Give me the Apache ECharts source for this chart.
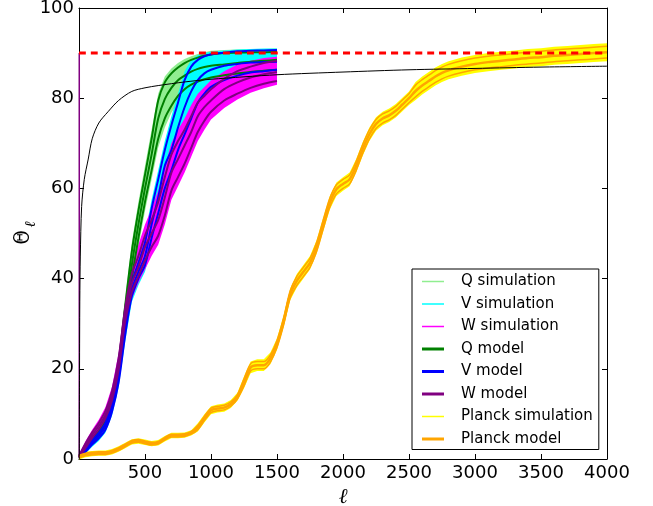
<!DOCTYPE html>
<html>
<head>
<meta charset="utf-8">
<script src="https://cdn.jsdelivr.net/npm/echarts@6/dist/echarts.min.js"></script>
<style>
html, body { margin: 0; padding: 0; background: #fff; }
#chart { width: 653px; height: 506px; }
</style>
</head>
<body>
<div id="chart"></div>
<script>
// multipole grid shared by the WMAP bands
const ell = [0, 50, 100, 150, 200, 250, 300, 350, 400, 450, 500, 550, 600, 650, 700, 750, 800, 850, 900, 950, 1000, 1100, 1200, 1300, 1400, 1500];

const qModel   = [0.5, 2.2, 4, 5.8, 8.3, 12.5, 20, 32, 43, 52, 60, 67.5, 75.5, 79.8, 82.3, 84, 85, 85.9, 86.5, 86.9, 87.2, 87.5, 87.8, 88.1, 88.3, 88.5];
const qModelHi = [0.7, 2.6, 4.5, 6.4, 9, 13.5, 21.5, 34, 46, 55, 63, 71, 79.5, 83.5, 85.5, 86.8, 87.8, 88.5, 89, 89.4, 89.7, 90, 90.1, 90.2, 90.2, 90.3];
const qModelLo = [0.3, 1.8, 3.5, 5.2, 7.6, 11.5, 18.5, 30, 40, 49, 57, 64, 71, 75.5, 78.3, 80.5, 82, 83, 83.7, 84.2, 84.6, 85.1, 85.5, 85.8, 86.1, 86.3];
const qSimHi   = [1, 3, 5, 7, 9.7, 14.5, 22.8, 35.5, 48, 57, 65, 73, 81, 84.8, 86.6, 87.8, 88.7, 89.3, 89.8, 90.2, 90.5, 90.7, 90.8, 90.9, 90.9, 91];
const qSimLo   = [0.1, 1.4, 3, 4.7, 7, 10.7, 17.2, 28.5, 38, 47, 55, 62, 69, 73.5, 76.8, 79, 80.7, 81.8, 82.7, 83.3, 83.8, 84.4, 84.8, 85.1, 85.4, 85.6];

const vModel   = [0.5, 2, 3.7, 5.2, 7.2, 11.5, 18.5, 29, 37.5, 41.5, 45, 52, 58, 65, 68.5, 73.5, 78, 81.5, 84, 85.5, 86.3, 87.2, 87.6, 87.9, 88, 88.1];
const vModelHi = [0.7, 2.4, 4.2, 5.8, 8, 12.5, 20, 30.5, 39, 43.5, 48, 55.5, 62, 68.5, 74, 79, 84, 87, 88.5, 89.3, 89.7, 90.1, 90.4, 90.5, 90.6, 90.7];
const vModelLo = [0.3, 1.6, 3.2, 4.6, 6.5, 10.5, 17, 27.5, 36, 40, 43, 49, 54.5, 60, 64, 68.5, 72, 75.5, 79, 81, 82.5, 84, 85, 85.7, 86, 86.3];
const vSimHi   = [1, 2.8, 4.7, 6.4, 8.7, 13.3, 21.3, 32, 40.5, 45, 50, 57.5, 64, 70.5, 76, 81, 86, 88.5, 89.5, 90, 90.3, 90.6, 90.8, 90.9, 91, 91];
const vSimLo   = [0.1, 1.2, 2.7, 4, 5.8, 9.6, 15.8, 26, 34.8, 38.5, 41.5, 47, 52.5, 58, 62, 66.5, 70, 73.5, 77.2, 79.5, 81, 82.8, 83.8, 84.5, 84.9, 85.2];

const wModel   = [0.5, 3, 5.3, 7.3, 9.8, 14, 21, 32, 39, 42.5, 47, 50, 53, 58, 63.5, 66.5, 69.5, 72.5, 76, 78, 79.5, 82, 83.5, 84.6, 85.3, 85.8];
const wModelHi = [0.7, 3.5, 5.9, 8, 10.6, 15, 22.3, 33.5, 41, 45, 49.5, 53, 57, 62.5, 67.5, 70.5, 73, 76, 79, 80.5, 82, 84.3, 86, 87, 87.8, 88.3];
const wModelLo = [0.3, 2.5, 4.7, 6.6, 9, 13, 19.7, 30.5, 37, 40.5, 44, 47, 49.5, 54, 59.5, 62.5, 65.5, 69, 72.5, 75, 77, 79.5, 81, 82.3, 83.2, 83.8];
const wSimHi   = [1, 4, 6.5, 8.7, 11.5, 16, 23.5, 35, 43, 47.5, 52, 55.5, 59.5, 65, 70, 73, 75.5, 78.5, 81, 82.5, 84, 86, 87.5, 88.3, 88.9, 89.2];
const wSimLo   = [0.1, 2, 4.1, 6, 8.3, 12, 18.5, 29, 35.5, 39, 42, 45, 47.5, 52, 57.5, 60.5, 63.5, 67, 70.5, 73, 75.3, 77.8, 79.7, 81.2, 82.2, 83];
// spike of the W model at the lowest multipole
const wSpikeEll = [2, 2];
const wSpikeVal = [90, 0.5];

// Planck
const planckEll = [0, 50, 100, 150, 200, 250, 300, 350, 400, 450, 500, 550, 600, 650, 700, 750, 800, 850,
  900, 950, 1000, 1050, 1100, 1150, 1200, 1250, 1300, 1350, 1400, 1450, 1500, 1550, 1600,
  1650, 1700, 1750, 1800, 1850, 1900, 1950, 2000, 2050, 2100, 2150, 2200, 2250, 2300, 2350, 2400, 2450, 2500,
  2550, 2600, 2650, 2700, 2750, 2800, 2900, 3000, 3100, 3200, 3300, 3400, 3500, 3600, 3700, 3800, 3900, 4000];
const planckModel = [0.5, 1.0, 1.2, 1.3, 1.3, 1.6, 2.2, 3.0, 3.8, 4.0, 3.7, 3.4, 3.6, 4.5, 5.2, 5.2, 5.3, 5.8,
  7.0, 9.0, 10.8, 11.2, 11.4, 12.2, 13.8, 17.0, 20.3, 20.8, 20.8, 22.3, 25.5, 30.5, 36.5,
  39.5, 41.5, 43.5, 47.0, 52.0, 56.8, 59.8, 61.0, 62.0, 65.0, 68.8, 72.0, 74.3, 75.5, 76.2, 77.2, 78.6, 80.0,
  81.6, 82.8, 83.8, 84.8, 85.6, 86.2, 87.0, 87.6, 88.0, 88.3, 88.6, 88.9, 89.1, 89.4, 89.6, 89.8, 90.0, 90.2];
// half distance of the model error lines and half width of the simulation band
const planckModelSpread = [0.3, 0.3, 0.3, 0.3, 0.3, 0.3, 0.3, 0.3, 0.3, 0.3, 0.3, 0.3, 0.3, 0.3, 0.3, 0.3, 0.3, 0.3,
  0.5, 0.5, 0.5, 0.5, 0.5, 0.5, 0.5, 0.8, 0.8, 0.8, 0.8, 0.8, 0.8, 0.8, 0.8,
  1.0, 1.0, 1.0, 1.0, 1.0, 1.0, 1.0, 1.0, 1.0, 1.0, 1.0, 1.0, 1.0, 1.0, 1.0, 1.0, 1.0, 1.0,
  1.3, 1.3, 1.3, 1.3, 1.3, 1.3, 1.3, 1.3, 1.3, 1.3, 1.3, 1.3, 1.3, 1.3, 1.3, 1.3, 1.3, 1.3];
const planckSimSpread = [0.6, 0.6, 0.6, 0.6, 0.6, 0.6, 0.6, 0.6, 0.6, 0.6, 0.6, 0.6, 0.6, 0.6, 0.6, 0.6, 0.6, 0.6,
  0.9, 0.9, 0.9, 0.9, 0.9, 0.9, 0.9, 1.3, 1.3, 1.3, 1.3, 1.3, 1.3, 1.3, 1.3,
  1.5, 1.5, 1.5, 1.5, 1.5, 1.5, 1.5, 1.5, 1.5, 1.5, 1.5, 1.5, 1.5, 1.5, 1.5, 1.5, 1.5, 1.5,
  2.0, 2.0, 2.0, 2.0, 2.0, 2.0, 2.0, 2.0, 2.0, 2.0, 2.0, 2.0, 2.0, 2.0, 2.0, 2.0, 2.0, 2.0];

// thin black reference curve
const refEll = [2, 4, 6, 10, 20, 40, 70, 100, 150, 220, 300, 400, 500, 600, 800, 1000, 1500, 2000, 2500, 3000, 3500, 4000];
const refVal = [0, 20, 35, 45, 56, 62, 66.5, 71, 74.5, 77, 79.5, 81.5, 82.3, 82.8, 83.6, 84.2, 85.2, 85.8, 86.3, 86.6, 86.9, 87.1];

const limitValue = 90;
const xTicks = [0, 4000, 500];
const yTicks = [0, 100, 20];

const legendNames = ["Q simulation", "V simulation", "W simulation", "Q model", "V model", "W model", "Planck simulation", "Planck model"];

const chart = echarts.init(document.getElementById("chart"));

function pairs(xs, ys) {
    return xs.map((x, i) => [x, ys[i]]);
}

function band(name, xs, lo, hi, color, z) {
    return {
        name: name,
        type: "custom",
        z: z,
        silent: true,
        data: xs.map((x, i) => [x, lo[i], hi[i]]),
        encode: { x: 0, y: [1, 2] },
        itemStyle: { color: color },
        renderItem: function (params, api) {
            if (params.dataIndex !== 0) return;
            const top = xs.map((x, i) => api.coord([x, hi[i]]));
            const bottom = xs.map((x, i) => api.coord([x, lo[i]])).reverse();
            return {
                type: "polygon",
                shape: { points: top.concat(bottom) },
                style: { fill: color }
            };
        }
    };
}

function line(name, xs, ys, color, width, z) {
    return {
        name: name,
        type: "line",
        data: pairs(xs, ys),
        symbol: "none",
        smooth: 0.3,
        silent: true,
        z: z,
        itemStyle: { color: color },
        lineStyle: { color: color, width: width }
    };
}

const planckModelHi = planckModel.map((v, i) => v + planckModelSpread[i]);
const planckModelLo = planckModel.map((v, i) => v - planckModelSpread[i]);
const planckSimHi = planckModel.map((v, i) => v + planckSimSpread[i]);
const planckSimLo = planckModel.map((v, i) => v - planckSimSpread[i]);

const series = [
    band("Q simulation", ell, qSimLo, qSimHi, "#90ee90", 1),
    band("V simulation", ell, vSimLo, vSimHi, "#00ffff", 1),
    band("W simulation", ell, wSimLo, wSimHi, "#ff00ff", 1),
    band("Planck simulation", planckEll, planckSimLo, planckSimHi, "#ffff00", 1),

    line("Q model", ell, qModel, "#008000", 2, 2),
    line("Q model hi", ell, qModelHi, "#008000", 2, 2),
    line("Q model lo", ell, qModelLo, "#008000", 2, 2),
    line("V model", ell, vModel, "#0000ff", 2, 2),
    line("V model hi", ell, vModelHi, "#0000ff", 2, 2),
    line("V model lo", ell, vModelLo, "#0000ff", 2, 2),
    line("W model", ell, wModel, "#800080", 2, 2),
    line("W model hi", ell, wModelHi, "#800080", 2, 2),
    line("W model lo", ell, wModelLo, "#800080", 2, 2),
    line("W spike", wSpikeEll, wSpikeVal, "#800080", 1.5, 2),
    line("Planck model", planckEll, planckModel, "#ffa500", 2.5, 2),
    line("Planck model hi", planckEll, planckModelHi, "#ffa500", 1.5, 2),
    line("Planck model lo", planckEll, planckModelLo, "#ffa500", 1.5, 2),

    line("reference", refEll, refVal, "#000000", 1, 3),
    Object.assign(line("limit", [xTicks[0], xTicks[1]], [limitValue, limitValue], "#ff0000", 3, 4),
        { lineStyle: { color: "#ff0000", width: 3, type: [7, 5] } })
];

const thin = "path://M0,0H22V1.5H0Z";
const thick = "path://M0,0H22V3H0Z";

const axisCommon = {
    type: "value",
    axisLine: { show: true, onZero: false, lineStyle: { color: "#000", width: 1 } },
    axisTick: { show: true, inside: true, length: 5, lineStyle: { color: "#000" } },
    splitLine: { show: false }
};

chart.setOption({
    animation: false,
    backgroundColor: "#fff",
    grid: { left: 79, right: 46, top: 8, bottom: 47, containLabel: false, outerBoundsMode: "none" },
    legend: {
        orient: "vertical",
        left: 412,
        top: 269,
        padding: [5, 6, 3, 10],
        itemGap: 7.5,
        itemWidth: 22,
        itemHeight: 14,
        selectedMode: false,
        borderColor: "#000",
        borderWidth: 1,
        backgroundColor: "#fff",
        textStyle: { fontSize: 15, color: "#000", fontFamily: "DejaVu Sans", padding: [0, 0, 0, 12] },
        data: legendNames.map(n => ({ name: n, icon: n.indexOf("simulation") >= 0 ? thin : thick }))
    },
    // y axis title: Theta with a lowered script-l subscript, rotated like the matplotlib label
    graphic: [
        {
            type: "text", x: 23, y: 237.5, rotation: Math.PI / 2, scaleX: 0.75, z: 10,
            style: { text: "Θ", fontSize: 23, fontFamily: "DejaVu Serif", fill: "#000", align: "center", verticalAlign: "middle" }
        },
        {
            type: "text", x: 31, y: 224.5, rotation: Math.PI / 2, z: 10,
            style: { text: "ℓ", fontSize: 15, fontStyle: "italic", fontFamily: "DejaVu Serif", fill: "#000", align: "center", verticalAlign: "middle" }
        }
    ],
    xAxis: [
        Object.assign({}, axisCommon, {
            position: "bottom",
            min: xTicks[0], max: xTicks[1], interval: xTicks[2],
            axisLabel: {
                color: "#000", fontSize: 18, fontFamily: "DejaVu Sans", margin: 5,
                formatter: v => (v === 0 ? "" : String(v))
            },
            name: "ℓ",
            nameLocation: "middle",
            nameGap: 17,
            nameTextStyle: { color: "#000", fontSize: 21, fontStyle: "italic", fontFamily: "DejaVu Serif" }
        }),
        Object.assign({}, axisCommon, {
            position: "top",
            min: xTicks[0], max: xTicks[1], interval: xTicks[2],
            axisLabel: { show: false }
        })
    ],
    yAxis: [
        Object.assign({}, axisCommon, {
            position: "left",
            min: yTicks[0], max: yTicks[1], interval: yTicks[2],
            axisLabel: { color: "#000", fontSize: 18, fontFamily: "DejaVu Sans", margin: 5 }
        }),
        Object.assign({}, axisCommon, {
            position: "right",
            min: yTicks[0], max: yTicks[1], interval: yTicks[2],
            axisLabel: { show: false }
        })
    ],
    series: series
});
</script>
</body>
</html>
